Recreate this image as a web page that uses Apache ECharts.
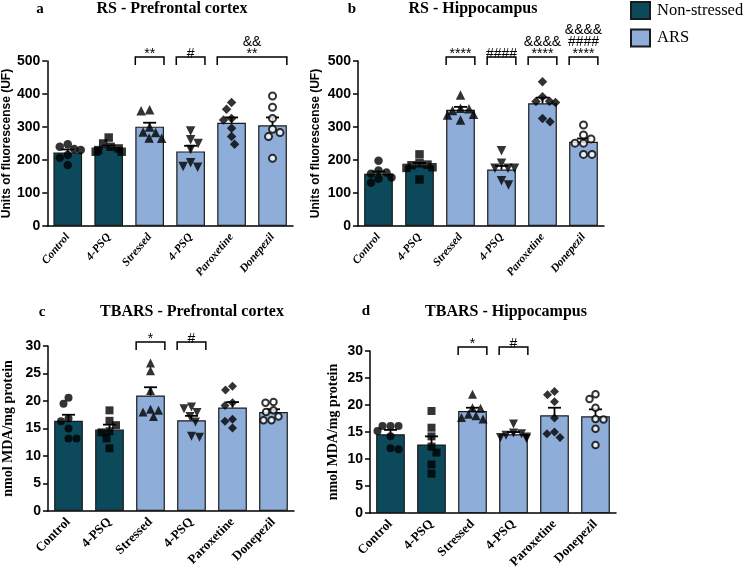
<!DOCTYPE html>
<html>
<head>
<meta charset="utf-8">
<script src="https://cdn.jsdelivr.net/npm/echarts@6/dist/echarts.min.js"></script>
<style>
  html, body { margin: 0; padding: 0; background: #fff; }
  #main { width: 749px; height: 571px; }
</style>
</head>
<body>
<div id="main"></div>
<script>
    // groups (first two are non-stressed, the rest ARS)
    const categories = ['Control', '4-PSQ', 'Stressed', '4-PSQ', 'Paroxetine', 'Donepezil'];
    const arsGroup = [false, false, true, true, true, true];

    // a - RS prefrontal cortex
    const rsPfcMeans = [223, 239, 301, 226, 313, 305];
    const rsPfcSem = [9, 5, 12, 17, 16, 24];
    const rsPfcPoints = [
        [248, 240, 233, 230, 215, 207, 185],
        [268, 250, 240, 235, 230, 225, 225],
        [352, 349, 300, 285, 283, 266, 267],
        [288, 261, 250, 232, 192, 178, 180],
        [374, 354, 326, 321, 296, 271, 248],
        [394, 360, 326, 293, 283, 271, 205],
    ];
    const rsPfcMarks = [[2, 2, '**'], [3, 3, '#'], [4, 5, '&&\n**']];

    // b - RS hippocampus
    const rsHipMeans = [158, 183, 352, 171, 372, 255];
    const rsHipSem = [7, 8, 9, 11, 17, 10];
    const rsHipPoints = [
        [198, 168, 162, 158, 147, 143, 131],
        [217, 190, 186, 184, 178, 176, 141],
        [397, 357, 355, 350, 339, 336, 321],
        [228, 190, 175, 175, 175, 137, 124],
        [437, 392, 377, 374, 378, 326, 316],
        [306, 276, 264, 251, 251, 217, 217],
    ];
    const rsHipMarks = [[2, 2, '****'], [3, 3, '####'], [4, 4, '&&&&\n****'], [5, 5, '&&&&\n####\n****']];

    // c - TBARS prefrontal cortex
    const tbPfcMeans = [16.4, 14.8, 21.0, 16.5, 18.8, 18.0];
    const tbPfcSem = [1.1, 0.9, 1.5, 0.8, 1.0, 0.5];
    const tbPfcPoints = [
        [20.6, 19.5, 16.8, 16.3, 15.0, 13.2, 13.2],
        [18.3, 16.4, 15.6, 14.5, 14.3, 13.2, 11.4],
        [26.9, 25.5, 21.9, 18.5, 18.3, 18.0, 17.2],
        [18.9, 18.6, 17.9, 17.2, 16.2, 13.6, 13.4],
        [22.7, 22.0, 19.7, 19.2, 16.7, 16.3, 15.1],
        [19.7, 19.8, 18.3, 18.0, 17.2, 16.5, 16.5],
    ];
    const tbPfcMarks = [[2, 2, '*'], [3, 3, '#']];

    // d - TBARS hippocampus
    const tbHipMeans = [14.6, 12.7, 18.9, 14.6, 18.1, 17.9];
    const tbHipSem = [0.8, 1.5, 0.6, 0.4, 1.4, 1.3];
    const tbHipPoints = [
        [16.1, 16.1, 16.1, 15.2, 14.2, 12.0, 11.8],
        [18.9, 15.8, 14.2, 12.3, 11.2, 9.0, 7.3],
        [22.0, 19.5, 19.4, 18.3, 18.0, 17.4, 17.7],
        [16.5, 14.8, 14.7, 14.4, 14.1, 14.0, 13.8],
        [22.5, 21.9, 20.6, 17.6, 15.0, 14.7, 14.0],
        [22.0, 21.1, 19.5, 17.4, 17.3, 15.6, 12.6],
    ];
    const tbHipMarks = [[2, 2, '*'], [3, 3, '#']];

    const COLOR_DARK = '#0c4a5b';
    const COLOR_LIGHT = '#8eadd8';
    const SERIF = '"Liberation Serif", "DejaVu Serif", serif';
    const SANS = '"Liberation Sans", Arial, sans-serif';

    // GraphPad-style marker per group
    const markerStyles = [
        { symbol: 'circle', rotate: 0, hollow: false },
        { symbol: 'rect', rotate: 0, hollow: false },
        { symbol: 'triangle', rotate: 0, hollow: false },
        { symbol: 'triangle', rotate: 180, hollow: false },
        { symbol: 'diamond', rotate: 0, hollow: false },
        { symbol: 'circle', rotate: 0, hollow: true },
    ];

    const panels = [
        {
            letter: 'a', title: 'RS - Prefrontal cortex', yName: 'Units of fluorescense (UF)',
            means: rsPfcMeans, sem: rsPfcSem, points: rsPfcPoints, marks: rsPfcMarks,
            max: 500, interval: 100,
            grid: { left: 47, top: 61, width: 246, height: 165 },
            letterPos: [40, 9], titlePos: [172, 9],
            yNameFont: { fontFamily: SANS, fontSize: 12, fontWeight: 'bold' }, yNameGap: 29,
            xLabel: { fontFamily: SERIF, fontSize: 11.5, fontWeight: 'bold', fontStyle: 'italic', rotate: 50 },
            markerSize: 8.5,
        },
        {
            letter: 'b', title: 'RS - Hippocampus', yName: 'Units of fluorescense (UF)',
            means: rsHipMeans, sem: rsHipSem, points: rsHipPoints, marks: rsHipMarks,
            max: 500, interval: 100,
            grid: { left: 358, top: 61, width: 246, height: 165 },
            letterPos: [352, 9], titlePos: [473, 9],
            yNameFont: { fontFamily: SANS, fontSize: 12, fontWeight: 'bold' }, yNameGap: 36,
            xLabel: { fontFamily: SERIF, fontSize: 11.5, fontWeight: 'bold', fontStyle: 'italic', rotate: 50 },
            markerSize: 8.5,
        },
        {
            letter: 'c', title: 'TBARS - Prefrontal cortex', yName: 'nmol MDA/mg protein',
            means: tbPfcMeans, sem: tbPfcSem, points: tbPfcPoints, marks: tbPfcMarks,
            max: 30, interval: 5,
            grid: { left: 48, top: 346, width: 246, height: 165 },
            letterPos: [42, 312], titlePos: [192, 312],
            yNameFont: { fontFamily: SERIF, fontSize: 14, fontWeight: 'bold' }, yNameGap: 33,
            xLabel: { fontFamily: SERIF, fontSize: 13, fontWeight: 'bold', fontStyle: 'normal', rotate: 45 },
            markerSize: 8,
        },
        {
            letter: 'd', title: 'TBARS - Hippocampus', yName: 'nmol MDA/mg protein',
            means: tbHipMeans, sem: tbHipSem, points: tbHipPoints, marks: tbHipMarks,
            max: 30, interval: 5,
            grid: { left: 370, top: 351, width: 246, height: 165 },
            letterPos: [366, 311], titlePos: [506, 312],
            yNameFont: { fontFamily: SERIF, fontSize: 14, fontWeight: 'bold' }, yNameGap: 30,
            xLabel: { fontFamily: SERIF, fontSize: 13, fontWeight: 'bold', fontStyle: 'normal', rotate: 45 },
            markerSize: 8,
        },
    ];

    // simple greedy beeswarm: horizontal pixel offsets so markers don't pile up
    function swarmOffsets(values, pxPerUnit, diameter, maxHalf) {
        const order = values.map((v, i) => i).sort((a, b) => values[b] - values[a]);
        const placed = [];
        const offsets = new Array(values.length).fill(0);
        order.forEach((i) => {
            const y = values[i] * pxPerUnit;
            let chosen = 0;
            for (let k = 0; k <= 60; k++) {
                const step = k * 0.5;
                const cands = k === 0 ? [0] : (placed.length % 2 ? [-step, step] : [step, -step]);
                const hit = cands.find((dx) => placed.every((p) => Math.hypot(p.x - dx, p.y - y) >= diameter));
                if (hit !== undefined) { chosen = hit; break; }
            }
            chosen = Math.max(-maxHalf, Math.min(maxHalf, chosen));
            placed.push({ x: chosen, y });
            offsets[i] = chosen;
        });
        return offsets;
    }

    const grids = [];
    const xAxes = [];
    const yAxes = [];
    const series = [];
    const graphics = [];

    panels.forEach((p, idx) => {
        grids.push(Object.assign({ containLabel: false }, p.grid));

        xAxes.push({
            type: 'category', gridIndex: idx, data: categories,
            axisLine: { lineStyle: { color: '#000', width: 1.5 } },
            axisTick: { alignWithLabel: true, length: 5, lineStyle: { color: '#000', width: 1.5 } },
            axisLabel: {
                interval: 0, rotate: p.xLabel.rotate, margin: 9, color: '#000',
                fontFamily: p.xLabel.fontFamily, fontSize: p.xLabel.fontSize,
                fontWeight: p.xLabel.fontWeight, fontStyle: p.xLabel.fontStyle,
            },
        });

        yAxes.push({
            type: 'value', gridIndex: idx, min: 0, max: p.max, interval: p.interval,
            name: p.yName, nameLocation: 'middle', nameRotate: 90, nameGap: p.yNameGap,
            nameTextStyle: Object.assign({ color: '#000' }, p.yNameFont),
            splitLine: { show: false },
            axisLine: { show: true, lineStyle: { color: '#000', width: 1.5 } },
            axisTick: { show: true, length: 5, lineStyle: { color: '#000', width: 1.5 } },
            axisLabel: { color: '#000', fontFamily: SANS, fontSize: 14, fontWeight: 'bold', margin: 7 },
        });

        const barStyle = { borderColor: '#1a1a1a', borderWidth: 1.2 };
        series.push({
            name: 'Non-stressed', type: 'bar', xAxisIndex: idx, yAxisIndex: idx,
            barWidth: '70%', barGap: '-100%',
            itemStyle: Object.assign({ color: COLOR_DARK }, barStyle),
            data: p.means.map((m, i) => (arsGroup[i] ? '-' : m)),
            z: 2,
        });
        series.push({
            name: 'ARS', type: 'bar', xAxisIndex: idx, yAxisIndex: idx,
            barWidth: '70%', barGap: '-100%',
            itemStyle: Object.assign({ color: COLOR_LIGHT }, barStyle),
            data: p.means.map((m, i) => (arsGroup[i] ? m : '-')),
            z: 2,
        });

        // mean + SEM whisker
        series.push({
            type: 'custom', xAxisIndex: idx, yAxisIndex: idx, z: 3, silent: true,
            data: p.means.map((m, i) => [i, m, p.sem[i]]),
            renderItem(params, api) {
                const base = api.coord([api.value(0), api.value(1)]);
                const top = api.coord([api.value(0), api.value(1) + api.value(2)]);
                const half = 6.5;
                const st = { stroke: '#000', lineWidth: 1.8 };
                return {
                    type: 'group',
                    children: [
                        { type: 'line', shape: { x1: base[0], y1: base[1], x2: top[0], y2: top[1] }, style: st },
                        { type: 'line', shape: { x1: top[0] - half, y1: top[1], x2: top[0] + half, y2: top[1] }, style: st },
                    ],
                };
            },
        });

        // individual animals
        const pxPerUnit = p.grid.height / p.max;
        const scatterData = [];
        p.points.forEach((vals, gi) => {
            const offs = swarmOffsets(vals, pxPerUnit, p.markerSize * 0.95, 13);
            const ms = markerStyles[gi];
            vals.forEach((v, k) => {
                scatterData.push({
                    value: [gi, v],
                    symbol: ms.symbol,
                    symbolRotate: ms.rotate,
                    symbolOffset: [offs[k], 0],
                    symbolSize: ms.symbol === 'triangle' ? p.markerSize + 1 : (ms.symbol === 'diamond' ? p.markerSize + 1 : (ms.hollow ? p.markerSize - 1.5 : p.markerSize)),
                    itemStyle: ms.hollow
                        ? { color: '#fff', borderColor: '#000', borderWidth: 2 }
                        : { color: '#000', borderWidth: 0 },
                });
            });
        });
        series.push({
            type: 'scatter', xAxisIndex: idx, yAxisIndex: idx, z: 4, silent: true,
            data: scatterData,
        });

        // significance brackets
        series.push({
            type: 'custom', xAxisIndex: idx, yAxisIndex: idx, z: 5, silent: true, clip: false,
            data: p.marks.map((m) => [m[0], m[1]]),
            renderItem(params, api) {
                const mark = p.marks[params.dataIndex];
                const band = api.size([1, 0])[0];
                const half = band * 0.35;
                const left = api.coord([api.value(0), p.max])[0] - half;
                const right = api.coord([api.value(1), p.max])[0] + half;
                const topY = api.coord([0, p.max])[1] - 4;
                const legY = topY + 8;
                return {
                    type: 'group',
                    children: [
                        {
                            type: 'polyline',
                            shape: { points: [[left, legY], [left, topY], [right, topY], [right, legY]] },
                            style: { stroke: '#000', lineWidth: 1.5, fill: null },
                        },
                        {
                            type: 'text',
                            style: {
                                text: mark[2], x: (left + right) / 2, y: topY + 3,
                                align: 'center', verticalAlign: 'bottom',
                                fontFamily: SANS, fontSize: 14, lineHeight: 12, fill: '#000',
                            },
                        },
                    ],
                };
            },
        });

        graphics.push({
            type: 'text', x: p.letterPos[0], y: p.letterPos[1],
            style: { text: p.letter, align: 'center', verticalAlign: 'middle', fontFamily: SERIF, fontSize: 15, fontWeight: 'bold', fill: '#000' },
        });
        graphics.push({
            type: 'text', x: p.titlePos[0], y: p.titlePos[1],
            style: { text: p.title, align: 'center', verticalAlign: 'middle', fontFamily: SERIF, fontSize: 16, fontWeight: 'bold', fill: '#000' },
        });
    });

    const chart = echarts.init(document.getElementById('main'), null, { renderer: 'canvas' });
    chart.setOption({
        animation: false,
        backgroundColor: '#fff',
        grid: grids,
        xAxis: xAxes,
        yAxis: yAxes,
        legend: {
            data: ['Non-stressed', 'ARS'],
            orient: 'vertical', left: 625, top: -4,
            itemWidth: 19, itemHeight: 17, itemGap: 8.5,
            icon: 'rect', selectedMode: false,
            textStyle: { fontFamily: SERIF, fontSize: 16.5, color: '#000', padding: [0, 0, 0, 2] },
        },
        graphic: graphics,
        series,
    });
</script>
</body>
</html>
